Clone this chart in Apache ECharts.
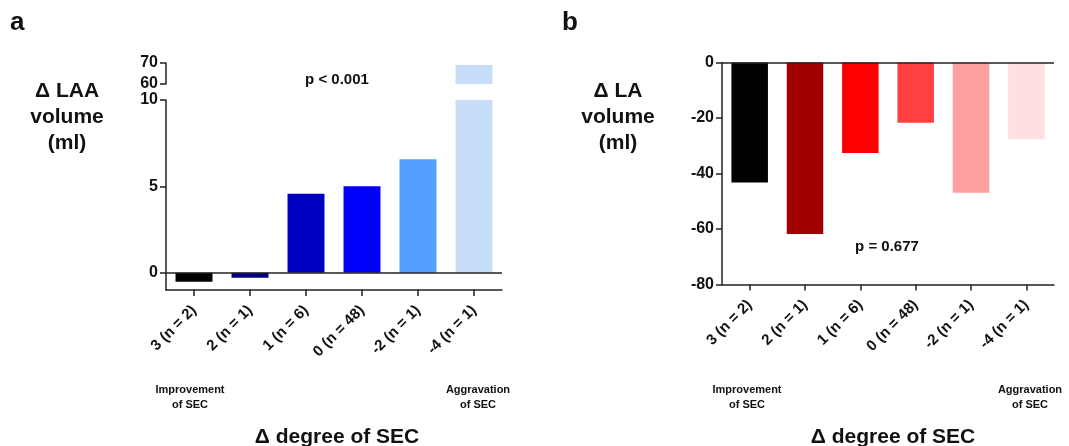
<!DOCTYPE html>
<html>
<head>
<meta charset="utf-8">
<script src="https://cdn.jsdelivr.net/npm/echarts@6/dist/echarts.min.js"></script>
<style>
html,body{margin:0;padding:0;background:#fff;}
#c{width:1069px;height:446px;}
</style>
</head>
<body>
<div id="c"></div>
<script>
// ---- data ----
const categories = ['3 (n = 2)', '2 (n = 1)', '1 (n = 6)', '0 (n = 48)', '-2 (n = 1)', '-4 (n = 1)'];
const laaValues = [-0.52, -0.29, 4.57, 5.0, 6.57, 69];
const laValues = [-43.2, -61.8, -32.6, -21.7, -46.9, -27.7];
const laaColors = ['#000000', '#000080', '#0000C0', '#0000FF', '#559FFF', '#C6DCF7'];
const laColors = ['#000000', '#A00000', '#FF0000', '#FF4040', '#FFA0A0', '#FFE0E0'];
const laaLowerTicks = [0, 5, 10];
const laaUpperTicks = [60, 70];
const laTicks = [0, -20, -40, -60, -80];

const FONT = 'Arial';
const AX = '#222';

const chart = echarts.init(document.getElementById('c'), null, {renderer: 'canvas'});

function items(vals, cols) {
  return vals.map((v, i) => ({value: v, itemStyle: {color: cols[i]}}));
}

const catAxisBase = {
  type: 'category',
  data: categories,
  axisLine: {show: true, onZero: false, lineStyle: {color: AX, width: 1.5}},
  axisTick: {show: true, alignWithLabel: true, length: 6, lineStyle: {color: AX, width: 1.5}},
  axisLabel: {show: true, rotate: 45, margin: 18, color: '#111', fontFamily: FONT, fontWeight: 'bold', fontSize: 15},
  splitLine: {show: false}
};
function valAxis(extra, ticks) {
  return Object.assign({
    type: 'value',
    axisLine: {show: true, onZero: false, lineStyle: {color: AX, width: 1.5}},
    axisTick: {show: true, length: 6, customValues: ticks, lineStyle: {color: AX, width: 1.5}},
    axisLabel: {color: '#111', fontFamily: FONT, fontWeight: 'bold', fontSize: 16, margin: 8, customValues: ticks},
    splitLine: {show: false}
  }, extra);
}
const zeroLine = {
  silent: true, symbol: 'none', label: {show: false},
  lineStyle: {color: AX, width: 1.5, type: 'solid'},
  data: [{yAxis: 0}]
};

const option = {
  animation: false,
  backgroundColor: '#fff',
  textStyle: {fontFamily: FONT},
  grid: [
    {left: 166, top: 100, width: 336, height: 190},   // a lower
    {left: 166, top: 63, width: 336, height: 21},     // a upper
    {left: 722, top: 62.5, width: 332, height: 222}   // b
  ],
  xAxis: [
    Object.assign({}, catAxisBase, {gridIndex: 0}),
    Object.assign({}, catAxisBase, {gridIndex: 1, show: false}),
    Object.assign({}, catAxisBase, {gridIndex: 2})
  ],
  yAxis: [
    valAxis({gridIndex: 0, min: -1, max: 10, interval: 5}, laaLowerTicks),
    valAxis({gridIndex: 1, min: 60, max: 70, interval: 10}, laaUpperTicks),
    valAxis({gridIndex: 2, min: -80, max: 0, interval: 20}, laTicks)
  ],
  series: [
    {type: 'bar', xAxisIndex: 0, yAxisIndex: 0, barWidth: '66%', clip: true,
     data: items(laaValues, laaColors), markLine: zeroLine},
    {type: 'bar', xAxisIndex: 1, yAxisIndex: 1, barWidth: '66%', clip: true,
     data: laaValues.map((v, i) => v >= 60 ? {value: v, itemStyle: {color: laaColors[i]}} : '-')},
    {type: 'bar', xAxisIndex: 2, yAxisIndex: 2, barWidth: '66%', clip: true,
     data: items(laValues, laColors), markLine: zeroLine}
  ],
  graphic: [
    {type: 'text', left: 10, top: 10, style: {text: 'a', font: 'bold 26px Arial', fill: '#111'}},
    {type: 'text', left: 562, top: 10, style: {text: 'b', font: 'bold 26px Arial', fill: '#111'}},
    {type: 'text', x: 67, y: 117, style: {text: 'Δ LAA\nvolume\n(ml)', font: 'bold 21px Arial', fill: '#111', align: 'center', verticalAlign: 'middle', lineHeight: 26}},
    {type: 'text', x: 618, y: 117, style: {text: 'Δ LA\nvolume\n(ml)', font: 'bold 21px Arial', fill: '#111', align: 'center', verticalAlign: 'middle', lineHeight: 26}},
    {type: 'text', x: 337, y: 80, style: {text: 'p < 0.001', font: 'bold 15px Arial', fill: '#111', align: 'center', verticalAlign: 'middle'}},
    {type: 'text', x: 887, y: 247, style: {text: 'p = 0.677', font: 'bold 15px Arial', fill: '#111', align: 'center', verticalAlign: 'middle'}},
    {type: 'text', x: 190, y: 397, style: {text: 'Improvement\nof SEC', font: 'bold 11px Arial', fill: '#111', align: 'center', verticalAlign: 'middle', lineHeight: 15}},
    {type: 'text', x: 478, y: 397, style: {text: 'Aggravation\nof SEC', font: 'bold 11px Arial', fill: '#111', align: 'center', verticalAlign: 'middle', lineHeight: 15}},
    {type: 'text', x: 747, y: 397, style: {text: 'Improvement\nof SEC', font: 'bold 11px Arial', fill: '#111', align: 'center', verticalAlign: 'middle', lineHeight: 15}},
    {type: 'text', x: 1030, y: 397, style: {text: 'Aggravation\nof SEC', font: 'bold 11px Arial', fill: '#111', align: 'center', verticalAlign: 'middle', lineHeight: 15}},
    {type: 'text', x: 337, y: 437, style: {text: 'Δ degree of SEC', font: 'bold 21px Arial', fill: '#111', align: 'center', verticalAlign: 'middle'}},
    {type: 'text', x: 893, y: 437, style: {text: 'Δ degree of SEC', font: 'bold 21px Arial', fill: '#111', align: 'center', verticalAlign: 'middle'}}
  ]
};
chart.setOption(option);
</script>
</body>
</html>
